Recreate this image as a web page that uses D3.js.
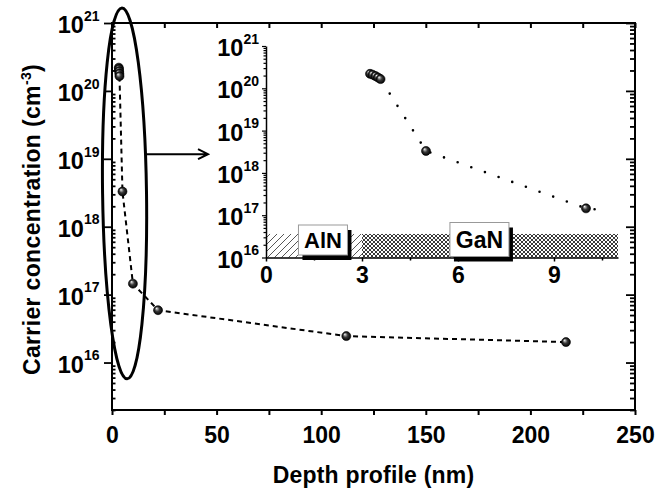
<!DOCTYPE html>
<html>
<head>
<meta charset="utf-8">
<script src="https://cdn.jsdelivr.net/npm/d3@7"></script>
<style>
body { margin: 0; background: #fff; }
svg text { font-family: "Liberation Sans", Arial, sans-serif; font-weight: bold; fill: #000; }
</style>
</head>
<body>
<div id="chart"></div>
<script>
// depth profile: depth (nm) vs carrier concentration (cm^-3)
var depth   = [3.25, 3.33, 3.42, 3.5, 3.58, 5, 10, 22, 112, 217];
var carrier = [2.2e20, 2.1e20, 1.95e20, 1.8e20, 1.65e20, 3.3e18, 1.45e17, 5.9e16, 2.45e16, 2.0e16];
// dotted guide in the inset runs a little past the last point
var tailDepth   = [10.65];
var tailCarrier = [1.3e17];

var xTicks = [0, 50, 100, 150, 200, 250];
var xMinor = [25, 75, 125, 175, 225];
var yExps = [16, 17, 18, 19, 20, 21];
var insetXTicks = [0, 3, 6, 9];
var insetXMinor = [1.5, 4.5, 7.5, 10.5];

// layers under the inset curve
var layerNames  = ["AlN", "GaN"];
var layerStart  = [0, 3];
var layerEnd    = [3, 11];
var layerLabelX = [1.78, 6.67];
var layerTop = 3.6e16;

// ellipse round the first 10 nm, and the arrow to the inset
var ellipseDepth = 6, ellipseHalfWidth = 10.5;
var ellipseTop = 1.66e21, ellipseBottom = 5.75e15;
var arrowFrom = 16.25, arrowTo = 45.9, arrowAt = 1.17e19;

var width = 671, height = 492;
var m = {left: 112, right: 635, top: 23, bottom: 410};
var ins = {left: 266, right: 618, top: 46, bottom: 257.5};

var x = d3.scaleLinear().domain([0, 250]).range([m.left, m.right]);
var y = d3.scaleLog().domain([2e15, 1e21]).range([m.bottom, m.top]);
var xi = d3.scaleLinear().domain([0, 11]).range([ins.left, ins.right]);
var yi = d3.scaleLog().domain([1e16, 1e21]).range([ins.bottom, ins.top]);

function minorTicks(scale) {
    var dom = scale.domain(), out = [];
    for (var e = Math.floor(Math.log10(dom[0])); e < Math.ceil(Math.log10(dom[1])); e++) {
        for (var k = 2; k <= 9; k++) {
            var v = k * Math.pow(10, e);
            if (v >= dom[0] * 0.999 && v <= dom[1]) out.push(v);
        }
    }
    return out;
}
var majors = yExps.map(function(e) { return Math.pow(10, e); });

var svg = d3.select("#chart").append("svg")
    .attr("width", width)
    .attr("height", height);

var defs = svg.append("defs");
var grad = defs.append("radialGradient").attr("id", "ball")
    .attr("cx", "50%").attr("cy", "50%").attr("r", "50%")
    .attr("fx", "32%").attr("fy", "28%");
[["0%", "#ffffff"], ["18%", "#b0b0b0"], ["50%", "#3a3a3a"], ["100%", "#000000"]].forEach(function(s) {
    grad.append("stop").attr("offset", s[0]).attr("stop-color", s[1]);
});

var pAlN = defs.append("pattern").attr("id", "hatchAlN")
    .attr("patternUnits", "userSpaceOnUse").attr("width", 7).attr("height", 7);
pAlN.append("rect").attr("width", 7).attr("height", 7).attr("fill", "#fff");
pAlN.append("path").attr("d", "M-1,8 L8,-1 M-1,1 L1,-1 M6,8 L8,6")
    .attr("stroke", "#444").attr("stroke-width", 0.9);

var pGaN = defs.append("pattern").attr("id", "hatchGaN")
    .attr("patternUnits", "userSpaceOnUse").attr("width", 4).attr("height", 4);
pGaN.append("rect").attr("width", 4).attr("height", 4).attr("fill", "#fff");
pGaN.append("path").attr("d", "M0,0 L4,4 M4,0 L0,4")
    .attr("stroke", "#222").attr("stroke-width", 0.9);

var pts = depth.map(function(d, i) { return [d, carrier[i]]; });

// main curve
var mainLine = d3.line().x(function(d) { return x(d[0]); }).y(function(d) { return y(d[1]); });
svg.append("path")
    .attr("d", mainLine(pts))
    .attr("fill", "none")
    .attr("stroke", "#000")
    .attr("stroke-width", 2)
    .attr("stroke-dasharray", "5,4");

svg.append("g").selectAll("circle")
    .data(pts)
    .enter()
    .append("circle")
    .attr("cx", function(d) { return x(d[0]); })
    .attr("cy", function(d) { return y(d[1]); })
    .attr("r", 4.5)
    .attr("fill", "url(#ball)")
    .attr("stroke", "#000")
    .attr("stroke-width", 0.6);

// ellipse
var ecx = x(ellipseDepth);
var eTop = y(ellipseTop), eBot = y(ellipseBottom);
var ecy = (eTop + eBot) / 2;
svg.append("ellipse")
    .attr("cx", ecx)
    .attr("cy", ecy)
    .attr("rx", x(ellipseDepth + ellipseHalfWidth) - ecx)
    .attr("ry", (eBot - eTop) / 2)
    .attr("transform", "rotate(-0.8," + ecx + "," + ecy + ")")
    .attr("fill", "none")
    .attr("stroke", "#000")
    .attr("stroke-width", 3);

// arrow
var ax0 = x(arrowFrom), ax1 = x(arrowTo), ay = y(arrowAt);
svg.append("path")
    .attr("d", "M" + ax0 + "," + ay + "L" + ax1 + "," + ay +
               "M" + (ax1 - 10) + "," + (ay - 5) + "L" + ax1 + "," + ay + "L" + (ax1 - 10) + "," + (ay + 5))
    .attr("fill", "none")
    .attr("stroke", "#000")
    .attr("stroke-width", 2);

// inset: layer bands and labels
var layers = layerNames.map(function(n, i) {
    return {name: n, x0: layerStart[i], x1: layerEnd[i], lx: layerLabelX[i]};
});
svg.append("g").selectAll("rect")
    .data(layers)
    .enter()
    .append("rect")
    .attr("x", function(d) { return xi(d.x0); })
    .attr("y", yi(layerTop))
    .attr("width", function(d) { return xi(d.x1) - xi(d.x0); })
    .attr("height", yi(1e16) - yi(layerTop))
    .attr("fill", function(d, i) { return i == 0 ? "url(#hatchAlN)" : "url(#hatchGaN)"; });

var boxW = [49, 59], boxH = [30, 34], boxTop = [225, 222.5], boxFs = [22, 23];
var lab = svg.append("g").selectAll("g")
    .data(layers)
    .enter()
    .append("g")
    .attr("transform", function(d, i) { return "translate(" + (xi(d.lx) - boxW[i] / 2) + "," + boxTop[i] + ")"; });
lab.append("rect")
    .attr("x", 4).attr("y", 5)
    .attr("width", function(d, i) { return boxW[i]; })
    .attr("height", function(d, i) { return boxH[i]; })
    .attr("fill", "#000");
lab.append("rect")
    .attr("width", function(d, i) { return boxW[i]; })
    .attr("height", function(d, i) { return boxH[i]; })
    .attr("fill", "#fff")
    .attr("stroke", "#999")
    .attr("stroke-width", 1);
lab.append("text")
    .attr("x", function(d, i) { return boxW[i] / 2; })
    .attr("y", function(d, i) { return boxH[i] / 2 + boxFs[i] * 0.36; })
    .attr("text-anchor", "middle")
    .attr("font-size", function(d, i) { return boxFs[i]; })
    .text(function(d) { return d.name; });

// inset curve (dotted)
var insetPts = pts.filter(function(d) { return d[0] <= 11; })
    .concat(tailDepth.map(function(d, i) { return [d, tailCarrier[i]]; }));
var insetLine = d3.line().x(function(d) { return xi(d[0]); }).y(function(d) { return yi(d[1]); });
svg.append("path")
    .attr("d", insetLine(insetPts))
    .attr("fill", "none")
    .attr("stroke", "#000")
    .attr("stroke-width", 2.6)
    .attr("stroke-linecap", "round")
    .attr("stroke-dasharray", "0,14.5");

svg.append("g").selectAll("circle")
    .data(pts.filter(function(d) { return d[0] <= 11; }))
    .enter()
    .append("circle")
    .attr("cx", function(d) { return xi(d[0]); })
    .attr("cy", function(d) { return yi(d[1]); })
    .attr("r", 4.5)
    .attr("fill", "url(#ball)")
    .attr("stroke", "#000")
    .attr("stroke-width", 0.6);

function styleAxis(g, w, fs) {
    g.selectAll("line").attr("stroke-width", w);
    g.selectAll("text").attr("font-size", fs);
    g.attr("font-family", null).attr("font-size", null);
}

// inset axes
var iax = svg.append("g").attr("transform", "translate(0," + ins.bottom + ")");
iax.call(d3.axisBottom(xi).tickValues(insetXTicks).tickSize(4).tickSizeOuter(0).tickPadding(5).tickFormat(d3.format("d")));
iax.select(".domain").attr("stroke-width", 1.5);
iax.append("g").call(d3.axisBottom(xi).tickValues(insetXMinor).tickSize(3).tickFormat(""))
    .call(function(g) { g.select(".domain").remove(); });
styleAxis(iax, 1.5, 23);

var iay = svg.append("g").attr("transform", "translate(" + ins.left + ",0)");
iay.call(d3.axisLeft(yi).tickValues(majors).tickSize(4).tickSizeOuter(0).tickFormat(""));
iay.select(".domain").attr("stroke-width", 1.5);
iay.append("g").call(d3.axisLeft(yi).tickValues(minorTicks(yi)).tickSize(2.5).tickFormat(""))
    .call(function(g) { g.select(".domain").remove(); });
styleAxis(iay, 1.2, 22);

function powerLabels(g, scale, xEnd) {
    var t = g.append("g").selectAll("text")
        .data(yExps)
        .enter()
        .append("text")
        .attr("x", xEnd)
        .attr("y", function(e) { return scale(Math.pow(10, e)) + 10; })
        .attr("text-anchor", "end");
    t.append("tspan").attr("font-size", 23.5).text("10");
    t.append("tspan").attr("font-size", 14).attr("dy", -12.3).text(function(e) { return e; });
}
powerLabels(svg, yi, ins.left - 7);

// main axes
var gb = svg.append("g").attr("transform", "translate(0," + m.bottom + ")");
gb.call(d3.axisBottom(x).tickValues(xTicks).tickSize(5).tickPadding(11.5).tickFormat(d3.format("d")))
    .call(function(g) { g.select(".domain").remove(); });
gb.append("g").call(d3.axisBottom(x).tickValues(xMinor).tickSize(5).tickFormat(""))
    .call(function(g) { g.select(".domain").remove(); });
styleAxis(gb, 2, 23);

var gt = svg.append("g").attr("transform", "translate(0," + m.top + ")");
gt.call(d3.axisBottom(x).tickValues(xTicks.concat(xMinor)).tickSize(5).tickFormat(""))
    .call(function(g) { g.select(".domain").remove(); });
styleAxis(gt, 2, 22);

var gl = svg.append("g").attr("transform", "translate(" + m.left + ",0)");
gl.call(d3.axisLeft(y).tickValues(majors).tickSize(8).tickFormat(""))
    .call(function(g) { g.select(".domain").remove(); });
gl.append("g").call(d3.axisLeft(y).tickValues(minorTicks(y)).tickSize(-3.5).tickFormat(""))
    .call(function(g) { g.select(".domain").remove(); });
styleAxis(gl, 1.8, 22);
powerLabels(svg, y, m.left - 12.5);

var gr = svg.append("g").attr("transform", "translate(" + m.right + ",0)");
gr.call(d3.axisLeft(y).tickValues(majors).tickSize(9).tickFormat(""))
    .call(function(g) { g.select(".domain").remove(); });
gr.append("g").call(d3.axisLeft(y).tickValues(minorTicks(y)).tickSize(5).tickFormat(""))
    .call(function(g) { g.select(".domain").remove(); });
styleAxis(gr, 1.8, 22);

svg.append("rect")
    .attr("x", m.left)
    .attr("y", m.top)
    .attr("width", m.right - m.left)
    .attr("height", m.bottom - m.top)
    .attr("fill", "none")
    .attr("stroke", "#000")
    .attr("stroke-width", 2);

// axis titles
svg.append("text")
    .attr("x", (m.left + m.right) / 2)
    .attr("y", 483)
    .attr("text-anchor", "middle")
    .attr("font-size", 23)
    .attr("letter-spacing", 0.2)
    .text("Depth profile (nm)");

var yt = svg.append("text")
    .attr("transform", "translate(40," + ((m.top + m.bottom) / 2 + 3) + ") rotate(-90)")
    .attr("text-anchor", "middle")
    .attr("font-size", 23)
    .attr("letter-spacing", 0.35);
yt.append("tspan").text("Carrier concentration (cm");
yt.append("tspan").attr("font-size", 14).attr("dy", -9).text("-3");
yt.append("tspan").attr("dy", 9).text(")");
</script>
</body>
</html>
